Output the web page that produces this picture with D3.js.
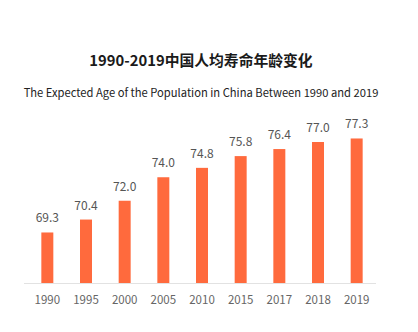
<!DOCTYPE html>
<html>
<head>
<meta charset="utf-8">
<script src="https://cdn.jsdelivr.net/npm/d3@7"></script>
<style>
  html, body { margin: 0; padding: 0; background: #fff; }
  svg { display: block; font-family: "Noto Sans CJK SC", "Noto Sans", sans-serif; }
</style>
</head>
<body>
<svg id="chart" width="418" height="332"></svg>
<script>
// Life expectancy in China, selected years
const years = ["1990", "1995", "2000", "2005", "2010", "2015", "2017", "2018", "2019"];
const lifeExpectancy = [69.3, 70.4, 72.0, 74.0, 74.8, 75.8, 76.4, 77.0, 77.3];

const titleText = "1990-2019中国人均寿命年龄变化";
const subtitleText = "The Expected Age of the Population in China Between 1990 and 2019";

const svg = d3.select("#chart");

const x = d3.scaleBand()
  .domain(years)
  .range([28, 376])
  .paddingInner(0.69)
  .paddingOuter(0.345);

const y = d3.scaleLinear()
  .domain([65, 80])
  .range([283, 106.75]);

// Titles
svg.append("text")
  .attr("x", 201).attr("y", 66)
  .attr("text-anchor", "middle")
  .attr("font-size", 14.8)
  .attr("font-weight", "bold")
  .attr("fill", "#1a1a1a")
  .text(titleText);

svg.append("text")
  .attr("x", 201).attr("y", 97)
  .attr("text-anchor", "middle")
  .attr("font-size", 11.2)
  .attr("fill", "#222")
  .text(subtitleText);

// Bars
const data = years.map((yr, i) => ({ year: yr, value: lifeExpectancy[i] }));

svg.append("g")
  .selectAll("rect")
  .data(data)
  .join("rect")
  .attr("x", d => x(d.year))
  .attr("y", d => y(d.value))
  .attr("width", x.bandwidth())
  .attr("height", d => y(65) - y(d.value))
  .attr("fill", "#ff6a3d");

// Value labels
svg.append("g")
  .selectAll("text")
  .data(data)
  .join("text")
  .attr("x", d => x(d.year) + x.bandwidth() / 2)
  .attr("y", d => y(d.value) - 10)
  .attr("text-anchor", "middle")
  .attr("font-size", 12)
  .attr("fill", "#555")
  .text(d => d.value.toFixed(1));

// Category axis
const xAxis = svg.append("g")
  .attr("transform", `translate(0,${y(65)})`)
  .call(d3.axisBottom(x).tickSize(0).tickPadding(13));

xAxis.select(".domain").attr("stroke", "#e2e2e2").attr("d", "M24,0.5H376");
xAxis.selectAll("text")
  .attr("font-size", 11.5)
  .attr("font-family", "\"Noto Sans CJK SC\", \"Noto Sans\", sans-serif")
  .attr("fill", "#666");
</script>
</body>
</html>
